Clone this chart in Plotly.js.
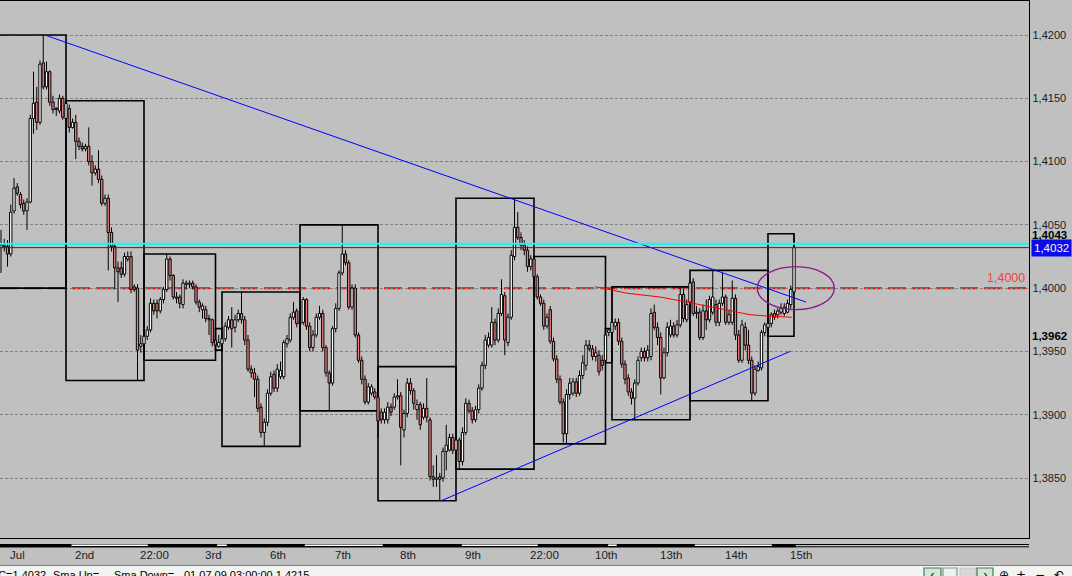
<!DOCTYPE html>
<html><head><meta charset="utf-8">
<script src="https://cdn.plot.ly/plotly-3.0.1.min.js"></script>
<style>html,body{margin:0;padding:0;background:#C0C0C0;overflow:hidden}#chart{width:1072px;height:576px}</style>
</head><body><div id="chart"></div>
<script>
// ---------------- DATA (EURUSD H1, 01.07.09 03:00 -> 15.07.09) ----------------
const openPrice = [
// Jul 1
1.4032,1.4033,1.4033,1.4027,1.4061,1.4080,1.4074,1.4067,1.4061,1.4068,1.4134,1.4147,1.4131,1.4178,1.4159,1.4171,1.4147,1.4141,1.4140,1.4150,
// Jul 2
1.4134,1.4142,1.4127,1.4131,1.4116,1.4112,1.4110,1.4112,1.4100,1.4091,1.4094,1.4086,1.4067,1.4071,1.4044,1.4033,1.4016,1.4016,1.4011,1.4023,1.4025,1.4001,1.4000,1.3954,
// Jul 3
1.3956,1.3962,1.3967,1.3988,1.3988,1.3982,1.3991,1.3999,1.4023,1.4010,1.3993,1.3993,1.3987,1.4003,1.4003,1.4004,1.4001,1.3989,1.3983,1.3983,1.3976,1.3975,
// Sun
1.3959,1.3954,
// Jul 6
1.3956,1.3960,1.3969,1.3975,1.3969,1.3975,1.3980,1.3975,1.3959,1.3936,1.3933,1.3928,1.3906,1.3886,1.3894,1.3917,1.3932,1.3921,1.3930,1.3930,1.3956,1.3959,1.3977,1.3982,
// Jul 7
1.3972,1.3973,1.3991,1.3970,1.3953,1.3963,1.3977,1.3980,1.3953,1.3933,1.3925,1.3968,1.3984,1.4012,1.4027,1.4020,1.3985,1.4000,1.3963,1.3943,1.3928,1.3910,1.3917,1.3918,
// Jul 8
1.3914,1.3902,1.3896,1.3896,1.3906,1.3906,1.3914,1.3915,1.3888,1.3901,1.3925,1.3919,1.3904,1.3908,1.3898,1.3905,1.3896,1.3851,1.3849,1.3851,1.3850,1.3871,1.3872,1.3882,
// Jul 9
1.3872,1.3880,1.3863,1.3886,1.3909,1.3903,1.3896,1.3904,1.3921,1.3939,1.3955,1.3955,1.3973,1.3959,1.3980,1.3994,1.3957,1.3977,1.4025,1.4048,1.4040,1.4034,1.4030,1.4017,
// Jul 10
1.4023,1.4009,1.3993,1.3988,1.3970,1.3983,1.3958,1.3944,1.3928,1.3910,1.3885,1.3916,1.3917,1.3926,1.3917,1.3931,1.3939,1.3955,1.3952,1.3946,1.3947,1.3943,
// Sun
1.3943,1.3965,
// Jul 13
1.3965,1.3970,1.3973,1.3958,1.3940,1.3929,1.3918,1.3913,1.3925,1.3945,1.3950,1.3945,1.3946,1.3981,1.3969,1.3961,1.3929,1.3949,1.3963,1.3970,1.3963,1.3971,1.3995,1.3975,
// Jul 14
1.3989,1.4005,1.3980,1.3981,1.3961,1.3982,1.3975,1.3981,1.3987,1.3973,1.3988,1.3993,1.3973,1.3973,1.3992,1.3963,1.3943,1.3969,1.3955,1.3943,1.3917,1.3935,1.3937,1.3965,
// Jul 15
1.3969,1.3972,1.3980,1.3979,1.3981,1.3980,1.3981,1.3987,1.3997];

const highPrice = [
1.4046,1.4039,1.4038,1.4066,1.4087,1.4083,1.4076,1.4070,1.4071,1.4137,1.4171,1.4159,1.4180,1.4200,1.4179,1.4172,1.4152,1.4143,1.4153,1.4152,
1.4148,1.4145,1.4134,1.4137,1.4119,1.4115,1.4114,1.4127,1.4105,1.4097,1.4109,1.4089,1.4074,1.4074,1.4048,1.4035,1.4021,1.4021,1.4028,1.4029,1.4029,1.4003,1.4003,1.3963,
1.3965,1.3970,1.3992,1.3991,1.3991,1.3993,1.4001,1.4027,1.4025,1.4011,1.3997,1.3995,1.4007,1.4006,1.4006,1.4006,1.4003,1.3991,1.3988,1.3986,1.3979,1.3976,
1.3968,1.3963,
1.3965,1.3973,1.3978,1.3985,1.3979,1.3983,1.3997,1.3978,1.3963,1.3939,1.3937,1.3931,1.3909,1.3897,1.3920,1.3934,1.3935,1.3940,1.3942,1.3959,1.3963,1.3980,1.3989,1.3984,
1.3976,1.3993,1.3992,1.3973,1.3967,1.3980,1.3986,1.3983,1.3955,1.3935,1.3970,1.3988,1.4014,1.4050,1.4030,1.4022,1.4003,1.4003,1.3965,1.3946,1.3931,1.3925,1.3924,1.3921,
1.3938,1.3905,1.3905,1.3910,1.3909,1.3917,1.3928,1.3918,1.3904,1.3929,1.3929,1.3921,1.3912,1.3910,1.3909,1.3929,1.3898,1.3860,1.3868,1.3854,1.3874,1.3892,1.3885,1.3885,
1.3883,1.3882,1.3890,1.3913,1.3912,1.3906,1.3907,1.3924,1.3942,1.3963,1.3965,1.3985,1.3976,1.3984,1.4007,1.3997,1.3980,1.4030,1.4071,1.4060,1.4044,1.4038,1.4033,1.4026,
1.4025,1.4011,1.3995,1.3991,1.3980,1.3986,1.3961,1.3947,1.3931,1.3913,1.3920,1.3929,1.3929,1.3929,1.3935,1.3947,1.3959,1.3959,1.3955,1.3954,1.3951,1.3947,
1.3968,1.3968,
1.4001,1.3976,1.3976,1.3961,1.3943,1.3932,1.3921,1.3928,1.3946,1.3953,1.3953,1.3955,1.3984,1.3987,1.3973,1.3965,1.3953,1.3973,1.3975,1.3973,1.3975,1.4000,1.3999,1.3991,
1.4007,1.4008,1.3986,1.3984,1.3987,1.3991,1.3994,1.4014,1.3991,1.3991,1.4012,1.3995,1.3983,1.4006,1.3995,1.3967,1.3975,1.3973,1.3967,1.3946,1.3939,1.3942,1.3967,1.3973,
1.3975,1.3981,1.3983,1.3984,1.3988,1.3988,1.3991,1.4002,1.4043];

const lowPrice = [
1.4012,1.4029,1.4017,1.4025,1.4059,1.4073,1.4063,1.4058,1.4046,1.4067,1.4122,1.4125,1.4129,1.4157,1.4157,1.4144,1.4138,1.4136,1.4138,1.4133,
1.4132,1.4123,1.4126,1.4102,1.4109,1.4108,1.4108,1.4097,1.4081,1.4089,1.4083,1.4065,1.4065,1.4014,1.4029,1.3999,1.3989,1.4008,1.4009,1.4021,1.3996,1.3997,1.3927,1.3949,
1.3943,1.3959,1.3965,1.3979,1.3976,1.3980,1.3988,1.3997,1.4006,1.3991,1.3988,1.3984,1.3984,1.3999,1.4000,1.3999,1.3987,1.3981,1.3976,1.3973,1.3963,1.3954,
1.3951,1.3953,
1.3953,1.3958,1.3967,1.3953,1.3965,1.3973,1.3972,1.3955,1.3934,1.3929,1.3914,1.3902,1.3882,1.3875,1.3891,1.3915,1.3918,1.3918,1.3928,1.3928,1.3953,1.3957,1.3975,1.3969,
1.3969,1.3971,1.3967,1.3950,1.3950,1.3961,1.3975,1.3950,1.3930,1.3903,1.3923,1.3965,1.3982,1.4010,1.4018,1.3983,1.3983,1.3961,1.3941,1.3924,1.3908,1.3908,1.3915,1.3912,
1.3882,1.3893,1.3893,1.3893,1.3899,1.3904,1.3912,1.3860,1.3882,1.3898,1.3916,1.3904,1.3896,1.3888,1.3896,1.3894,1.3848,1.3843,1.3843,1.3832,1.3847,1.3856,1.3871,1.3869,
1.3869,1.3857,1.3860,1.3884,1.3901,1.3893,1.3894,1.3901,1.3919,1.3936,1.3953,1.3953,1.3955,1.3957,1.3978,1.3947,1.3954,1.3975,1.4022,1.4038,1.4030,1.4026,1.4013,1.4014,
1.4006,1.3991,1.3986,1.3967,1.3968,1.3956,1.3942,1.3925,1.3908,1.3878,1.3877,1.3912,1.3915,1.3914,1.3915,1.3928,1.3935,1.3950,1.3943,1.3942,1.3931,1.3935,
1.3941,1.3962,
1.3962,1.3967,1.3955,1.3937,1.3924,1.3915,1.3908,1.3896,1.3923,1.3942,1.3942,1.3942,1.3943,1.3967,1.3955,1.3916,1.3928,1.3946,1.3961,1.3961,1.3961,1.3969,1.3973,1.3973,
1.3987,1.3978,1.3976,1.3959,1.3959,1.3967,1.3973,1.3979,1.3970,1.3970,1.3986,1.3971,1.3971,1.3971,1.3959,1.3941,1.3941,1.3951,1.3940,1.3911,1.3915,1.3934,1.3935,1.3962,
1.3962,1.3969,1.3975,1.3976,1.3979,1.3978,1.3980,1.3984,1.3995];

const closePrice = [
1.4034,1.4034,1.4027,1.4060,1.4079,1.4075,1.4066,1.4061,1.4068,1.4134,1.4146,1.4131,1.4177,1.4159,1.4171,1.4147,1.4141,1.4142,1.4150,1.4135,
1.4146,1.4127,1.4131,1.4116,1.4112,1.4110,1.4112,1.4100,1.4091,1.4094,1.4086,1.4067,1.4071,1.4044,1.4033,1.4016,1.4013,1.4011,1.4025,1.4025,1.3999,1.3999,1.3951,1.3956,
1.3962,1.3967,1.3988,1.3982,1.3982,1.3991,1.3999,1.4023,1.4010,1.3993,1.3992,1.3988,1.4004,1.4004,1.4004,1.4001,1.3989,1.3985,1.3986,1.3976,1.3975,1.3957,
1.3955,1.3957,
1.3960,1.3970,1.3975,1.3968,1.3975,1.3980,1.3975,1.3959,1.3936,1.3933,1.3928,1.3905,1.3886,1.3894,1.3917,1.3930,1.3921,1.3936,1.3935,1.3957,1.3960,1.3977,1.3981,1.3972,
1.3973,1.3991,1.3970,1.3953,1.3963,1.3977,1.3980,1.3953,1.3933,1.3925,1.3968,1.3984,1.4012,1.4027,1.4020,1.3985,1.4000,1.3963,1.3943,1.3928,1.3910,1.3922,1.3922,1.3914,
1.3895,1.3896,1.3902,1.3906,1.3902,1.3914,1.3915,1.3890,1.3901,1.3925,1.3919,1.3909,1.3908,1.3892,1.3905,1.3898,1.3851,1.3849,1.3850,1.3849,1.3871,1.3876,1.3882,1.3872,
1.3880,1.3863,1.3886,1.3909,1.3903,1.3896,1.3904,1.3921,1.3939,1.3959,1.3961,1.3973,1.3959,1.3980,1.3995,1.3959,1.3977,1.4026,1.4048,1.4040,1.4034,1.4030,1.4017,1.4023,
1.4009,1.3993,1.3988,1.3970,1.3977,1.3958,1.3944,1.3928,1.3910,1.3885,1.3916,1.3925,1.3926,1.3917,1.3931,1.3941,1.3955,1.3952,1.3946,1.3949,1.3934,1.3939,
1.3963,1.3967,
1.3973,1.3973,1.3958,1.3940,1.3928,1.3918,1.3913,1.3925,1.3943,1.3950,1.3945,1.3951,1.3980,1.3969,1.3961,1.3929,1.3949,1.3969,1.3970,1.3963,1.3971,1.3995,1.3976,1.3987,
1.4004,1.3980,1.3981,1.3961,1.3982,1.3975,1.3991,1.3993,1.3973,1.3988,1.3993,1.3973,1.3979,1.3992,1.3963,1.3943,1.3971,1.3955,1.3943,1.3917,1.3936,1.3938,1.3965,1.3971,
1.3972,1.3979,1.3977,1.3982,1.3984,1.3985,1.3988,1.3999,1.4032];

// daily range boxes (bar index from/to, high, low)
const boxStart = [-4, 20, 44, 66, 68, 92, 116, 140, 164, 186, 188, 212, 236];
const boxEnd   = [20, 44, 66, 68, 92, 116, 140, 164, 186, 188, 212, 236, 244];
const boxHigh  = [1.4200,1.4148,1.4027,1.3968,1.3997,1.4050,1.3938,1.4071,1.4025,1.3968,1.4001,1.4014,1.4043];
const boxLow   = [1.4000,1.3927,1.3943,1.3951,1.3875,1.3903,1.3832,1.3857,1.3877,1.3941,1.3896,1.3911,1.3962];

// drawn objects
const trendDownBar = [13.5, 247.7], trendDownPrice = [1.4200, 1.3989];
const trendUpBar   = [135.4, 242.8], trendUpPrice  = [1.3832, 1.3950];
const redLineBar   = [182.8, 185.2, 192.5, 202.8, 213.0, 221.2, 225.2, 230.5, 235.6, 243.3];
const redLinePrice = [1.4001, 1.4000, 1.3996, 1.3993, 1.3988, 1.3984, 1.3982, 1.3979, 1.3978, 1.3977];
const ellipseBar = [232.7, 256.4], ellipsePrice = [1.3983, 1.4017];
const levelRed = 1.4000, levelCyan = 1.4035, bidPrice = 1.4032;
const todayHigh = 1.4043, todayLow = 1.3962;

// axes
const priceTicks = [1.385, 1.390, 1.395, 1.400, 1.405, 1.410, 1.415, 1.420];
const timeTickBar  = [0, 20, 40, 60, 80, 100, 120, 140, 160, 180, 200, 220, 240];
const timeTickText = ['Jul','2nd','22:00','3rd','6th','7th','8th','9th','22:00','10th','13th','14th','15th'];
const daySep = [-1, 21.7, 45.2, 66.5, 69.5, 93.5, 117.5, 141.8, 165.2, 186.8, 189.5, 213.5, 237.2, 244.6];

// ---------------- CHART ----------------
const FONT = 'Liberation Sans, Arial, sans-serif';
const X_RANGE = [-0.3077, 316.31];
const Y_RANGE = [1.38026, 1.422686];
const PLOT_BOTTOM = 538, PLOT_H = 537, PLOT_W = 1029;
const py = p => (PLOT_BOTTOM - p) / PLOT_H;   // pixel row -> paper y
const pxp = p => p / PLOT_W;                  // pixel col -> paper x
const fmt = v => v.toFixed(4).replace('.', ',');
const bars = closePrice.map((_, i) => i);

// candle bodies and wicks built from the OHLC arrays
const bodyLow = [], bodyHeight = [], bodyColor = [], wickX = [], wickY = [];
bars.forEach(i => {
  const o = openPrice[i], c = closePrice[i];
  const lo = Math.min(o, c), hi = Math.max(o, c);
  bodyLow.push(lo); bodyHeight.push(hi - lo);
  bodyColor.push(c >= o ? '#FFFFFF' : '#F08080');
  wickX.push(i, i, null, i, i, null);
  wickY.push(highPrice[i], hi, null, lo, lowPrice[i], null);
});

const traces = [
  {type:'bar', x:bars, y:bodyHeight, base:bodyLow, width:0.72,
   marker:{color:bodyColor, line:{color:'#000000', width:1}}, hoverinfo:'skip'},
  {type:'scatter', mode:'lines', x:wickX, y:wickY, line:{color:'#000000', width:1}, hoverinfo:'skip', connectgaps:false},
  {type:'scatter', mode:'lines', x:trendDownBar, y:trendDownPrice, line:{color:'#0000FF', width:1}, hoverinfo:'skip'},
  {type:'scatter', mode:'lines', x:trendUpBar, y:trendUpPrice, line:{color:'#0000FF', width:1}, hoverinfo:'skip'},
  {type:'scatter', mode:'lines', x:redLineBar, y:redLinePrice, line:{color:'#FF0000', width:1}, hoverinfo:'skip'}
];

const shapes = [];
shapes.push({type:'line', xref:'paper', x0:0, x1:1, yref:'y', y0:levelRed, y1:levelRed, layer:'between',
             line:{color:'#FF0000', width:2, dash:'18px,6px'}});
for (let k = 0; k < boxStart.length; k++) {
  shapes.push({type:'rect', xref:'x', yref:'y', x0:boxStart[k], x1:boxEnd[k], y0:boxLow[k], y1:boxHigh[k],
               layer:'between', line:{color:'#000000', width:1.6}, fillcolor:'rgba(0,0,0,0)'});
}
shapes.push({type:'line', xref:'paper', x0:0, x1:1, yref:'y', y0:levelCyan, y1:levelCyan,
             line:{color:'#00FFFF', width:2}});
shapes.push({type:'line', xref:'paper', x0:0, x1:1, yref:'y', y0:bidPrice, y1:bidPrice,
             line:{color:'#A00000', width:1}});
shapes.push({type:'circle', xref:'x', yref:'y', x0:ellipseBar[0], x1:ellipseBar[1], y0:ellipsePrice[0], y1:ellipsePrice[1],
             line:{color:'#8B1A8B', width:1.3}});

// period separator strip under the time axis
shapes.push({type:'line', xref:'paper', x0:0, x1:1, yref:'paper', y0:py(544.5), y1:py(544.5), line:{color:'#000', width:1}});
shapes.push({type:'line', xref:'paper', x0:0, x1:1, yref:'paper', y0:py(546.8), y1:py(546.8), line:{color:'#000', width:1}});
for (let k = 0; k < daySep.length - 1; k++) {
  shapes.push({type:'rect', xref:'x', yref:'paper', x0:daySep[k], x1:daySep[k+1], y0:py(547.3), y1:py(544),
               fillcolor:'#000000', line:{width:0}});
  if (k % 2 === 1) {
    shapes.push({type:'rect', xref:'x', yref:'paper', x0:daySep[k], x1:daySep[k+1], y0:py(546), y1:py(544.4),
                 fillcolor:'#FFFFFF', line:{width:0}});
  }
}
// status bar
shapes.push({type:'rect', xref:'paper', yref:'paper', x0:0, x1:pxp(1072), y0:py(578), y1:py(565.5),
             fillcolor:'#F2F4F2', line:{width:0}});
shapes.push({type:'line', xref:'paper', yref:'paper', x0:0, x1:pxp(1072), y0:py(565.5), y1:py(565.5),
             line:{color:'#6E8C80', width:1.2}});
// toolbar icons
[[924,941,'#D6E6D8','#3F7A5A'],[943,957,'#EEF2EE','#7A9A8A'],[960,976,'#D8D8D8','#C8C8C8'],[977,993,'#D6E6D8','#3F7A5A']].forEach(b => {
  shapes.push({type:'rect', xref:'paper', yref:'paper', x0:pxp(b[0]), x1:pxp(b[1]), y0:py(580), y1:py(568),
               fillcolor:b[2], line:{color:b[3], width:1.2}});
});

const annotations = [];
timeTickBar.forEach((b, k) => {
  annotations.push({xref:'x', yref:'paper', x:b, y:py(555), xanchor:'left', yanchor:'middle', xshift:7,
    text:timeTickText[k], showarrow:false, font:{family:FONT, size:11.5, color:'#1c1c24'}});
});
annotations.push({xref:'paper', yref:'y', x:1, y:todayHigh, xanchor:'left', yanchor:'middle', xshift:1, yshift:-1,
  text:'<b>' + fmt(todayHigh) + '</b>', showarrow:false, font:{family:FONT, size:11.5, color:'#000'}});
annotations.push({xref:'paper', yref:'y', x:1, y:todayLow, xanchor:'left', yanchor:'middle', xshift:1,
  text:'<b>' + fmt(todayLow) + '</b>', showarrow:false, font:{family:FONT, size:11.5, color:'#000'}});
annotations.push({xref:'paper', yref:'y', x:1, y:bidPrice, xanchor:'left', yanchor:'middle', xshift:2,
  text:fmt(bidPrice), showarrow:false, bgcolor:'#0A0AEE', borderpad:2,
  font:{family:FONT, size:11.5, color:'#FFFFC8'}});
annotations.push({xref:'paper', yref:'y', x:1, y:levelRed, xanchor:'right', yanchor:'bottom', xshift:-2, yshift:1,
  text:fmt(levelRed), showarrow:false, font:{family:FONT, size:12.5, color:'#FF3B3B'}});
// status line
annotations.push({xref:'paper', yref:'paper', x:pxp(48), y:py(566.5), xanchor:'right', yanchor:'top',
  text:'1 C=1,4032', showarrow:false, font:{family:FONT, size:11, color:'#000'}});
[['Sma Up=', 51], ['Sma Down=', 112], ['01.07.09 03:00:00 1,4215', 182]].forEach(s => {
  annotations.push({xref:'paper', yref:'paper', x:pxp(s[1]), y:py(566.5), xanchor:'left', yanchor:'top',
    text:s[0], showarrow:false, font:{family:FONT, size:11, color:'#000'}});
});
[['‹', 932], ['›', 985], ['⊕', 1004], ['+', 1021], ['−', 1040], ['↶', 1059]].forEach(s => {
  annotations.push({xref:'paper', yref:'paper', x:pxp(s[1]), y:py(566), xanchor:'center', yanchor:'top',
    text:s[0], showarrow:false, font:{family:'DejaVu Sans, sans-serif', size:12, color:'#000'}});
});

const layout = {
  width:1072, height:576, margin:{l:0, r:43, t:1, b:38, pad:0},
  paper_bgcolor:'#C0C0C0', plot_bgcolor:'#C0C0C0', showlegend:false, separators:',.',
  barmode:'overlay',
  xaxis:{range:X_RANGE, autorange:false, showgrid:false, zeroline:false, showticklabels:false, ticks:'',
         showline:true, mirror:true, linecolor:'#000', linewidth:1.3, fixedrange:true},
  yaxis:{side:'right', range:Y_RANGE, autorange:false, tickmode:'array', tickvals:priceTicks, tickformat:'.4f',
         showgrid:true, gridcolor:'#808080', griddash:'3px,2px', gridwidth:1, zeroline:false,
         showline:true, linecolor:'#000', linewidth:1.3, ticks:'', fixedrange:true,
         tickfont:{family:FONT, size:11, color:'#202020'}},
  shapes:shapes, annotations:annotations
};

Plotly.newPlot('chart', traces, layout, {staticPlot:true, displayModeBar:false});
</script>
</body></html>
